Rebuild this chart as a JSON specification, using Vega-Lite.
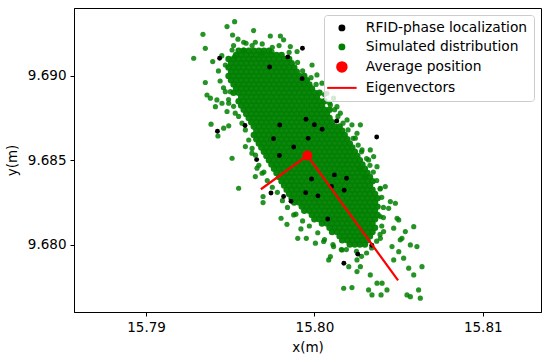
{
"$schema":"https://vega.github.io/schema/vega-lite/v6.json",
"width":467,"height":304,
"autosize":{"type":"none"},
"padding":{"left":74,"top":8,"right":9,"bottom":50},
"config":{
"font":"DejaVu Sans",
"view":{"stroke":"black","strokeWidth":1},
"axis":{"grid":false,"domainColor":"black","tickColor":"black","labelColor":"black","titleColor":"black","labelFontSize":13.5,"titleFontSize":13.5,"titleFontWeight":"normal","tickSize":4,"labelPadding":4,"domainWidth":1,"tickWidth":1,"labelFont":"DejaVu Sans","titleFont":"DejaVu Sans"},
"legend":{"title":null,"orient":"top-right","offset":7,"padding":6,"rowPadding":4,"labelFontSize":13.8,"labelFont":"DejaVu Sans","labelColor":"black","labelLimit":400,"labelOffset":17,"symbolOffset":5,"strokeColor":"#cccccc","fillColor":"rgba(255,255,255,0.8)","cornerRadius":3}
},
"datasets":{
"simcore":[
{"x":15.7955,"y":9.6915},{"x":15.7958,"y":9.6915},{"x":15.7961,"y":9.6915},{"x":15.7964,"y":9.6915},{"x":15.7967,"y":9.6915},{"x":15.7970,"y":9.6915},{"x":15.7973,"y":9.6915},
{"x":15.79535,"y":9.69125},{"x":15.79565,"y":9.69125},{"x":15.79595,"y":9.69125},{"x":15.79625,"y":9.69125},{"x":15.79655,"y":9.69125},{"x":15.79685,"y":9.69125},{"x":15.79715,"y":9.69125},{"x":15.79745,"y":9.69125},{"x":15.79775,"y":9.69125},{"x":15.79805,"y":9.69125},
{"x":15.7949,"y":9.6910},{"x":15.7952,"y":9.6910},{"x":15.7955,"y":9.6910},{"x":15.7958,"y":9.6910},{"x":15.7961,"y":9.6910},{"x":15.7964,"y":9.6910},{"x":15.7967,"y":9.6910},{"x":15.7970,"y":9.6910},{"x":15.7973,"y":9.6910},{"x":15.7976,"y":9.6910},{"x":15.7979,"y":9.6910},{"x":15.7982,"y":9.6910},{"x":15.7985,"y":9.6910},
{"x":15.79505,"y":9.69075},{"x":15.79535,"y":9.69075},{"x":15.79565,"y":9.69075},{"x":15.79595,"y":9.69075},{"x":15.79625,"y":9.69075},{"x":15.79655,"y":9.69075},{"x":15.79685,"y":9.69075},{"x":15.79715,"y":9.69075},{"x":15.79745,"y":9.69075},{"x":15.79775,"y":9.69075},{"x":15.79805,"y":9.69075},{"x":15.79835,"y":9.69075},{"x":15.79865,"y":9.69075},
{"x":15.7949,"y":9.6905},{"x":15.7952,"y":9.6905},{"x":15.7955,"y":9.6905},{"x":15.7958,"y":9.6905},{"x":15.7961,"y":9.6905},{"x":15.7964,"y":9.6905},{"x":15.7967,"y":9.6905},{"x":15.7970,"y":9.6905},{"x":15.7973,"y":9.6905},{"x":15.7976,"y":9.6905},{"x":15.7979,"y":9.6905},{"x":15.7982,"y":9.6905},{"x":15.7985,"y":9.6905},{"x":15.7988,"y":9.6905},
{"x":15.79505,"y":9.69025},{"x":15.79535,"y":9.69025},{"x":15.79565,"y":9.69025},{"x":15.79595,"y":9.69025},{"x":15.79625,"y":9.69025},{"x":15.79655,"y":9.69025},{"x":15.79685,"y":9.69025},{"x":15.79715,"y":9.69025},{"x":15.79745,"y":9.69025},{"x":15.79775,"y":9.69025},{"x":15.79805,"y":9.69025},{"x":15.79835,"y":9.69025},{"x":15.79865,"y":9.69025},{"x":15.79895,"y":9.69025},
{"x":15.7949,"y":9.6900},{"x":15.7952,"y":9.6900},{"x":15.7955,"y":9.6900},{"x":15.7958,"y":9.6900},{"x":15.7961,"y":9.6900},{"x":15.7964,"y":9.6900},{"x":15.7967,"y":9.6900},{"x":15.7970,"y":9.6900},{"x":15.7973,"y":9.6900},{"x":15.7976,"y":9.6900},{"x":15.7979,"y":9.6900},{"x":15.7982,"y":9.6900},{"x":15.7985,"y":9.6900},{"x":15.7988,"y":9.6900},{"x":15.7991,"y":9.6900},{"x":15.7994,"y":9.6900},
{"x":15.79505,"y":9.68975},{"x":15.79535,"y":9.68975},{"x":15.79565,"y":9.68975},{"x":15.79595,"y":9.68975},{"x":15.79625,"y":9.68975},{"x":15.79655,"y":9.68975},{"x":15.79685,"y":9.68975},{"x":15.79715,"y":9.68975},{"x":15.79745,"y":9.68975},{"x":15.79775,"y":9.68975},{"x":15.79805,"y":9.68975},{"x":15.79835,"y":9.68975},{"x":15.79865,"y":9.68975},{"x":15.79895,"y":9.68975},{"x":15.79925,"y":9.68975},{"x":15.79955,"y":9.68975},
{"x":15.7952,"y":9.6895},{"x":15.7955,"y":9.6895},{"x":15.7958,"y":9.6895},{"x":15.7961,"y":9.6895},{"x":15.7964,"y":9.6895},{"x":15.7967,"y":9.6895},{"x":15.7970,"y":9.6895},{"x":15.7973,"y":9.6895},{"x":15.7976,"y":9.6895},{"x":15.7979,"y":9.6895},{"x":15.7982,"y":9.6895},{"x":15.7985,"y":9.6895},{"x":15.7988,"y":9.6895},{"x":15.7991,"y":9.6895},{"x":15.7994,"y":9.6895},{"x":15.7997,"y":9.6895},
{"x":15.79535,"y":9.68925},{"x":15.79565,"y":9.68925},{"x":15.79595,"y":9.68925},{"x":15.79625,"y":9.68925},{"x":15.79655,"y":9.68925},{"x":15.79685,"y":9.68925},{"x":15.79715,"y":9.68925},{"x":15.79745,"y":9.68925},{"x":15.79775,"y":9.68925},{"x":15.79805,"y":9.68925},{"x":15.79835,"y":9.68925},{"x":15.79865,"y":9.68925},{"x":15.79895,"y":9.68925},{"x":15.79925,"y":9.68925},{"x":15.79955,"y":9.68925},{"x":15.79985,"y":9.68925},
{"x":15.7952,"y":9.6890},{"x":15.7955,"y":9.6890},{"x":15.7958,"y":9.6890},{"x":15.7961,"y":9.6890},{"x":15.7964,"y":9.6890},{"x":15.7967,"y":9.6890},{"x":15.7970,"y":9.6890},{"x":15.7973,"y":9.6890},{"x":15.7976,"y":9.6890},{"x":15.7979,"y":9.6890},{"x":15.7982,"y":9.6890},{"x":15.7985,"y":9.6890},{"x":15.7988,"y":9.6890},{"x":15.7991,"y":9.6890},{"x":15.7994,"y":9.6890},{"x":15.7997,"y":9.6890},{"x":15.8000,"y":9.6890},{"x":15.8003,"y":9.6890},
{"x":15.79565,"y":9.68875},{"x":15.79595,"y":9.68875},{"x":15.79625,"y":9.68875},{"x":15.79655,"y":9.68875},{"x":15.79685,"y":9.68875},{"x":15.79715,"y":9.68875},{"x":15.79745,"y":9.68875},{"x":15.79775,"y":9.68875},{"x":15.79805,"y":9.68875},{"x":15.79835,"y":9.68875},{"x":15.79865,"y":9.68875},{"x":15.79895,"y":9.68875},{"x":15.79925,"y":9.68875},{"x":15.79955,"y":9.68875},{"x":15.79985,"y":9.68875},{"x":15.80015,"y":9.68875},
{"x":15.7955,"y":9.6885},{"x":15.7958,"y":9.6885},{"x":15.7961,"y":9.6885},{"x":15.7964,"y":9.6885},{"x":15.7967,"y":9.6885},{"x":15.7970,"y":9.6885},{"x":15.7973,"y":9.6885},{"x":15.7976,"y":9.6885},{"x":15.7979,"y":9.6885},{"x":15.7982,"y":9.6885},{"x":15.7985,"y":9.6885},{"x":15.7988,"y":9.6885},{"x":15.7991,"y":9.6885},{"x":15.7994,"y":9.6885},{"x":15.7997,"y":9.6885},{"x":15.8000,"y":9.6885},{"x":15.8003,"y":9.6885},{"x":15.8006,"y":9.6885},
{"x":15.79565,"y":9.68825},{"x":15.79595,"y":9.68825},{"x":15.79625,"y":9.68825},{"x":15.79655,"y":9.68825},{"x":15.79685,"y":9.68825},{"x":15.79715,"y":9.68825},{"x":15.79745,"y":9.68825},{"x":15.79775,"y":9.68825},{"x":15.79805,"y":9.68825},{"x":15.79835,"y":9.68825},{"x":15.79865,"y":9.68825},{"x":15.79895,"y":9.68825},{"x":15.79925,"y":9.68825},{"x":15.79955,"y":9.68825},{"x":15.79985,"y":9.68825},{"x":15.80015,"y":9.68825},{"x":15.80045,"y":9.68825},
{"x":15.7958,"y":9.6880},{"x":15.7961,"y":9.6880},{"x":15.7964,"y":9.6880},{"x":15.7967,"y":9.6880},{"x":15.7970,"y":9.6880},{"x":15.7973,"y":9.6880},{"x":15.7976,"y":9.6880},{"x":15.7979,"y":9.6880},{"x":15.7982,"y":9.6880},{"x":15.7985,"y":9.6880},{"x":15.7988,"y":9.6880},{"x":15.7991,"y":9.6880},{"x":15.7994,"y":9.6880},{"x":15.7997,"y":9.6880},{"x":15.8000,"y":9.6880},{"x":15.8003,"y":9.6880},{"x":15.8006,"y":9.6880},{"x":15.8009,"y":9.6880},
{"x":15.79595,"y":9.68775},{"x":15.79625,"y":9.68775},{"x":15.79655,"y":9.68775},{"x":15.79685,"y":9.68775},{"x":15.79715,"y":9.68775},{"x":15.79745,"y":9.68775},{"x":15.79775,"y":9.68775},{"x":15.79805,"y":9.68775},{"x":15.79835,"y":9.68775},{"x":15.79865,"y":9.68775},{"x":15.79895,"y":9.68775},{"x":15.79925,"y":9.68775},{"x":15.79955,"y":9.68775},{"x":15.79985,"y":9.68775},{"x":15.80015,"y":9.68775},{"x":15.80045,"y":9.68775},{"x":15.80075,"y":9.68775},
{"x":15.7961,"y":9.6875},{"x":15.7964,"y":9.6875},{"x":15.7967,"y":9.6875},{"x":15.7970,"y":9.6875},{"x":15.7973,"y":9.6875},{"x":15.7976,"y":9.6875},{"x":15.7979,"y":9.6875},{"x":15.7982,"y":9.6875},{"x":15.7985,"y":9.6875},{"x":15.7988,"y":9.6875},{"x":15.7991,"y":9.6875},{"x":15.7994,"y":9.6875},{"x":15.7997,"y":9.6875},{"x":15.8000,"y":9.6875},{"x":15.8003,"y":9.6875},{"x":15.8006,"y":9.6875},{"x":15.8009,"y":9.6875},
{"x":15.79625,"y":9.68725},{"x":15.79655,"y":9.68725},{"x":15.79685,"y":9.68725},{"x":15.79715,"y":9.68725},{"x":15.79745,"y":9.68725},{"x":15.79775,"y":9.68725},{"x":15.79805,"y":9.68725},{"x":15.79835,"y":9.68725},{"x":15.79865,"y":9.68725},{"x":15.79895,"y":9.68725},{"x":15.79925,"y":9.68725},{"x":15.79955,"y":9.68725},{"x":15.79985,"y":9.68725},{"x":15.80015,"y":9.68725},{"x":15.80045,"y":9.68725},{"x":15.80075,"y":9.68725},{"x":15.80105,"y":9.68725},
{"x":15.7964,"y":9.6870},{"x":15.7967,"y":9.6870},{"x":15.7970,"y":9.6870},{"x":15.7973,"y":9.6870},{"x":15.7976,"y":9.6870},{"x":15.7979,"y":9.6870},{"x":15.7982,"y":9.6870},{"x":15.7985,"y":9.6870},{"x":15.7988,"y":9.6870},{"x":15.7991,"y":9.6870},{"x":15.7994,"y":9.6870},{"x":15.7997,"y":9.6870},{"x":15.8000,"y":9.6870},{"x":15.8003,"y":9.6870},{"x":15.8006,"y":9.6870},{"x":15.8009,"y":9.6870},{"x":15.8012,"y":9.6870},{"x":15.8015,"y":9.6870},
{"x":15.79655,"y":9.68675},{"x":15.79685,"y":9.68675},{"x":15.79715,"y":9.68675},{"x":15.79745,"y":9.68675},{"x":15.79775,"y":9.68675},{"x":15.79805,"y":9.68675},{"x":15.79835,"y":9.68675},{"x":15.79865,"y":9.68675},{"x":15.79895,"y":9.68675},{"x":15.79925,"y":9.68675},{"x":15.79955,"y":9.68675},{"x":15.79985,"y":9.68675},{"x":15.80015,"y":9.68675},{"x":15.80045,"y":9.68675},{"x":15.80075,"y":9.68675},{"x":15.80105,"y":9.68675},{"x":15.80135,"y":9.68675},{"x":15.80165,"y":9.68675},
{"x":15.7964,"y":9.6865},{"x":15.7967,"y":9.6865},{"x":15.7970,"y":9.6865},{"x":15.7973,"y":9.6865},{"x":15.7976,"y":9.6865},{"x":15.7979,"y":9.6865},{"x":15.7982,"y":9.6865},{"x":15.7985,"y":9.6865},{"x":15.7988,"y":9.6865},{"x":15.7991,"y":9.6865},{"x":15.7994,"y":9.6865},{"x":15.7997,"y":9.6865},{"x":15.8000,"y":9.6865},{"x":15.8003,"y":9.6865},{"x":15.8006,"y":9.6865},{"x":15.8009,"y":9.6865},{"x":15.8012,"y":9.6865},{"x":15.8015,"y":9.6865},{"x":15.8018,"y":9.6865},
{"x":15.79655,"y":9.68625},{"x":15.79685,"y":9.68625},{"x":15.79715,"y":9.68625},{"x":15.79745,"y":9.68625},{"x":15.79775,"y":9.68625},{"x":15.79805,"y":9.68625},{"x":15.79835,"y":9.68625},{"x":15.79865,"y":9.68625},{"x":15.79895,"y":9.68625},{"x":15.79925,"y":9.68625},{"x":15.79955,"y":9.68625},{"x":15.79985,"y":9.68625},{"x":15.80015,"y":9.68625},{"x":15.80045,"y":9.68625},{"x":15.80075,"y":9.68625},{"x":15.80105,"y":9.68625},{"x":15.80135,"y":9.68625},{"x":15.80165,"y":9.68625},{"x":15.80195,"y":9.68625},
{"x":15.7967,"y":9.6860},{"x":15.7970,"y":9.6860},{"x":15.7973,"y":9.6860},{"x":15.7976,"y":9.6860},{"x":15.7979,"y":9.6860},{"x":15.7982,"y":9.6860},{"x":15.7985,"y":9.6860},{"x":15.7988,"y":9.6860},{"x":15.7991,"y":9.6860},{"x":15.7994,"y":9.6860},{"x":15.7997,"y":9.6860},{"x":15.8000,"y":9.6860},{"x":15.8003,"y":9.6860},{"x":15.8006,"y":9.6860},{"x":15.8009,"y":9.6860},{"x":15.8012,"y":9.6860},{"x":15.8015,"y":9.6860},{"x":15.8018,"y":9.6860},{"x":15.8021,"y":9.6860},
{"x":15.79685,"y":9.68575},{"x":15.79715,"y":9.68575},{"x":15.79745,"y":9.68575},{"x":15.79775,"y":9.68575},{"x":15.79805,"y":9.68575},{"x":15.79835,"y":9.68575},{"x":15.79865,"y":9.68575},{"x":15.79895,"y":9.68575},{"x":15.79925,"y":9.68575},{"x":15.79955,"y":9.68575},{"x":15.79985,"y":9.68575},{"x":15.80015,"y":9.68575},{"x":15.80045,"y":9.68575},{"x":15.80075,"y":9.68575},{"x":15.80105,"y":9.68575},{"x":15.80135,"y":9.68575},{"x":15.80165,"y":9.68575},{"x":15.80195,"y":9.68575},{"x":15.80225,"y":9.68575},
{"x":15.7970,"y":9.6855},{"x":15.7973,"y":9.6855},{"x":15.7976,"y":9.6855},{"x":15.7979,"y":9.6855},{"x":15.7982,"y":9.6855},{"x":15.7985,"y":9.6855},{"x":15.7988,"y":9.6855},{"x":15.7991,"y":9.6855},{"x":15.7994,"y":9.6855},{"x":15.7997,"y":9.6855},{"x":15.8000,"y":9.6855},{"x":15.8003,"y":9.6855},{"x":15.8006,"y":9.6855},{"x":15.8009,"y":9.6855},{"x":15.8012,"y":9.6855},{"x":15.8015,"y":9.6855},{"x":15.8018,"y":9.6855},{"x":15.8021,"y":9.6855},{"x":15.8024,"y":9.6855},
{"x":15.79715,"y":9.68525},{"x":15.79745,"y":9.68525},{"x":15.79775,"y":9.68525},{"x":15.79805,"y":9.68525},{"x":15.79835,"y":9.68525},{"x":15.79865,"y":9.68525},{"x":15.79895,"y":9.68525},{"x":15.79925,"y":9.68525},{"x":15.79955,"y":9.68525},{"x":15.79985,"y":9.68525},{"x":15.80015,"y":9.68525},{"x":15.80045,"y":9.68525},{"x":15.80075,"y":9.68525},{"x":15.80105,"y":9.68525},{"x":15.80135,"y":9.68525},{"x":15.80165,"y":9.68525},{"x":15.80195,"y":9.68525},{"x":15.80225,"y":9.68525},{"x":15.80255,"y":9.68525},
{"x":15.7973,"y":9.6850},{"x":15.7976,"y":9.6850},{"x":15.7979,"y":9.6850},{"x":15.7982,"y":9.6850},{"x":15.7985,"y":9.6850},{"x":15.7988,"y":9.6850},{"x":15.7991,"y":9.6850},{"x":15.7994,"y":9.6850},{"x":15.7997,"y":9.6850},{"x":15.8000,"y":9.6850},{"x":15.8003,"y":9.6850},{"x":15.8006,"y":9.6850},{"x":15.8009,"y":9.6850},{"x":15.8012,"y":9.6850},{"x":15.8015,"y":9.6850},{"x":15.8018,"y":9.6850},{"x":15.8021,"y":9.6850},{"x":15.8024,"y":9.6850},{"x":15.8027,"y":9.6850},
{"x":15.79745,"y":9.68475},{"x":15.79775,"y":9.68475},{"x":15.79805,"y":9.68475},{"x":15.79835,"y":9.68475},{"x":15.79865,"y":9.68475},{"x":15.79895,"y":9.68475},{"x":15.79925,"y":9.68475},{"x":15.79955,"y":9.68475},{"x":15.79985,"y":9.68475},{"x":15.80015,"y":9.68475},{"x":15.80045,"y":9.68475},{"x":15.80075,"y":9.68475},{"x":15.80105,"y":9.68475},{"x":15.80135,"y":9.68475},{"x":15.80165,"y":9.68475},{"x":15.80195,"y":9.68475},{"x":15.80225,"y":9.68475},{"x":15.80255,"y":9.68475},{"x":15.80285,"y":9.68475},
{"x":15.7976,"y":9.6845},{"x":15.7979,"y":9.6845},{"x":15.7982,"y":9.6845},{"x":15.7985,"y":9.6845},{"x":15.7988,"y":9.6845},{"x":15.7991,"y":9.6845},{"x":15.7994,"y":9.6845},{"x":15.7997,"y":9.6845},{"x":15.8000,"y":9.6845},{"x":15.8003,"y":9.6845},{"x":15.8006,"y":9.6845},{"x":15.8009,"y":9.6845},{"x":15.8012,"y":9.6845},{"x":15.8015,"y":9.6845},{"x":15.8018,"y":9.6845},{"x":15.8021,"y":9.6845},{"x":15.8024,"y":9.6845},{"x":15.8027,"y":9.6845},{"x":15.8030,"y":9.6845},
{"x":15.79775,"y":9.68425},{"x":15.79805,"y":9.68425},{"x":15.79835,"y":9.68425},{"x":15.79865,"y":9.68425},{"x":15.79895,"y":9.68425},{"x":15.79925,"y":9.68425},{"x":15.79955,"y":9.68425},{"x":15.79985,"y":9.68425},{"x":15.80015,"y":9.68425},{"x":15.80045,"y":9.68425},{"x":15.80075,"y":9.68425},{"x":15.80105,"y":9.68425},{"x":15.80135,"y":9.68425},{"x":15.80165,"y":9.68425},{"x":15.80195,"y":9.68425},{"x":15.80225,"y":9.68425},{"x":15.80255,"y":9.68425},{"x":15.80285,"y":9.68425},{"x":15.80315,"y":9.68425},
{"x":15.7979,"y":9.6840},{"x":15.7982,"y":9.6840},{"x":15.7985,"y":9.6840},{"x":15.7988,"y":9.6840},{"x":15.7991,"y":9.6840},{"x":15.7994,"y":9.6840},{"x":15.7997,"y":9.6840},{"x":15.8000,"y":9.6840},{"x":15.8003,"y":9.6840},{"x":15.8006,"y":9.6840},{"x":15.8009,"y":9.6840},{"x":15.8012,"y":9.6840},{"x":15.8015,"y":9.6840},{"x":15.8018,"y":9.6840},{"x":15.8021,"y":9.6840},{"x":15.8024,"y":9.6840},{"x":15.8027,"y":9.6840},{"x":15.8030,"y":9.6840},{"x":15.8033,"y":9.6840},
{"x":15.79805,"y":9.68375},{"x":15.79835,"y":9.68375},{"x":15.79865,"y":9.68375},{"x":15.79895,"y":9.68375},{"x":15.79925,"y":9.68375},{"x":15.79955,"y":9.68375},{"x":15.79985,"y":9.68375},{"x":15.80015,"y":9.68375},{"x":15.80045,"y":9.68375},{"x":15.80075,"y":9.68375},{"x":15.80105,"y":9.68375},{"x":15.80135,"y":9.68375},{"x":15.80165,"y":9.68375},{"x":15.80195,"y":9.68375},{"x":15.80225,"y":9.68375},{"x":15.80255,"y":9.68375},{"x":15.80285,"y":9.68375},{"x":15.80315,"y":9.68375},{"x":15.80345,"y":9.68375},
{"x":15.7982,"y":9.6835},{"x":15.7985,"y":9.6835},{"x":15.7988,"y":9.6835},{"x":15.7991,"y":9.6835},{"x":15.7994,"y":9.6835},{"x":15.7997,"y":9.6835},{"x":15.8000,"y":9.6835},{"x":15.8003,"y":9.6835},{"x":15.8006,"y":9.6835},{"x":15.8009,"y":9.6835},{"x":15.8012,"y":9.6835},{"x":15.8015,"y":9.6835},{"x":15.8018,"y":9.6835},{"x":15.8021,"y":9.6835},{"x":15.8024,"y":9.6835},{"x":15.8027,"y":9.6835},{"x":15.8030,"y":9.6835},{"x":15.8033,"y":9.6835},
{"x":15.79835,"y":9.68325},{"x":15.79865,"y":9.68325},{"x":15.79895,"y":9.68325},{"x":15.79925,"y":9.68325},{"x":15.79955,"y":9.68325},{"x":15.79985,"y":9.68325},{"x":15.80015,"y":9.68325},{"x":15.80045,"y":9.68325},{"x":15.80075,"y":9.68325},{"x":15.80105,"y":9.68325},{"x":15.80135,"y":9.68325},{"x":15.80165,"y":9.68325},{"x":15.80195,"y":9.68325},{"x":15.80225,"y":9.68325},{"x":15.80255,"y":9.68325},{"x":15.80285,"y":9.68325},{"x":15.80315,"y":9.68325},{"x":15.80345,"y":9.68325},
{"x":15.7985,"y":9.6830},{"x":15.7988,"y":9.6830},{"x":15.7991,"y":9.6830},{"x":15.7994,"y":9.6830},{"x":15.7997,"y":9.6830},{"x":15.8000,"y":9.6830},{"x":15.8003,"y":9.6830},{"x":15.8006,"y":9.6830},{"x":15.8009,"y":9.6830},{"x":15.8012,"y":9.6830},{"x":15.8015,"y":9.6830},{"x":15.8018,"y":9.6830},{"x":15.8021,"y":9.6830},{"x":15.8024,"y":9.6830},{"x":15.8027,"y":9.6830},{"x":15.8030,"y":9.6830},{"x":15.8033,"y":9.6830},{"x":15.8036,"y":9.6830},
{"x":15.79865,"y":9.68275},{"x":15.79895,"y":9.68275},{"x":15.79925,"y":9.68275},{"x":15.79955,"y":9.68275},{"x":15.79985,"y":9.68275},{"x":15.80015,"y":9.68275},{"x":15.80045,"y":9.68275},{"x":15.80075,"y":9.68275},{"x":15.80105,"y":9.68275},{"x":15.80135,"y":9.68275},{"x":15.80165,"y":9.68275},{"x":15.80195,"y":9.68275},{"x":15.80225,"y":9.68275},{"x":15.80255,"y":9.68275},{"x":15.80285,"y":9.68275},{"x":15.80315,"y":9.68275},{"x":15.80345,"y":9.68275},{"x":15.80375,"y":9.68275},
{"x":15.7988,"y":9.6825},{"x":15.7991,"y":9.6825},{"x":15.7994,"y":9.6825},{"x":15.7997,"y":9.6825},{"x":15.8000,"y":9.6825},{"x":15.8003,"y":9.6825},{"x":15.8006,"y":9.6825},{"x":15.8009,"y":9.6825},{"x":15.8012,"y":9.6825},{"x":15.8015,"y":9.6825},{"x":15.8018,"y":9.6825},{"x":15.8021,"y":9.6825},{"x":15.8024,"y":9.6825},{"x":15.8027,"y":9.6825},{"x":15.8030,"y":9.6825},{"x":15.8033,"y":9.6825},{"x":15.8036,"y":9.6825},
{"x":15.79925,"y":9.68225},{"x":15.79955,"y":9.68225},{"x":15.79985,"y":9.68225},{"x":15.80015,"y":9.68225},{"x":15.80045,"y":9.68225},{"x":15.80075,"y":9.68225},{"x":15.80105,"y":9.68225},{"x":15.80135,"y":9.68225},{"x":15.80165,"y":9.68225},{"x":15.80195,"y":9.68225},{"x":15.80225,"y":9.68225},{"x":15.80255,"y":9.68225},{"x":15.80285,"y":9.68225},{"x":15.80315,"y":9.68225},{"x":15.80345,"y":9.68225},{"x":15.80375,"y":9.68225},
{"x":15.7994,"y":9.6820},{"x":15.7997,"y":9.6820},{"x":15.8000,"y":9.6820},{"x":15.8003,"y":9.6820},{"x":15.8006,"y":9.6820},{"x":15.8009,"y":9.6820},{"x":15.8012,"y":9.6820},{"x":15.8015,"y":9.6820},{"x":15.8018,"y":9.6820},{"x":15.8021,"y":9.6820},{"x":15.8024,"y":9.6820},{"x":15.8027,"y":9.6820},{"x":15.8030,"y":9.6820},{"x":15.8033,"y":9.6820},{"x":15.8036,"y":9.6820},
{"x":15.79985,"y":9.68175},{"x":15.80015,"y":9.68175},{"x":15.80045,"y":9.68175},{"x":15.80075,"y":9.68175},{"x":15.80105,"y":9.68175},{"x":15.80135,"y":9.68175},{"x":15.80165,"y":9.68175},{"x":15.80195,"y":9.68175},{"x":15.80225,"y":9.68175},{"x":15.80255,"y":9.68175},{"x":15.80285,"y":9.68175},{"x":15.80315,"y":9.68175},{"x":15.80345,"y":9.68175},{"x":15.80375,"y":9.68175},
{"x":15.8000,"y":9.6815},{"x":15.8003,"y":9.6815},{"x":15.8006,"y":9.6815},{"x":15.8009,"y":9.6815},{"x":15.8012,"y":9.6815},{"x":15.8015,"y":9.6815},{"x":15.8018,"y":9.6815},{"x":15.8021,"y":9.6815},{"x":15.8024,"y":9.6815},{"x":15.8027,"y":9.6815},{"x":15.8030,"y":9.6815},{"x":15.8033,"y":9.6815},{"x":15.8036,"y":9.6815},
{"x":15.80045,"y":9.68125},{"x":15.80075,"y":9.68125},{"x":15.80105,"y":9.68125},{"x":15.80135,"y":9.68125},{"x":15.80165,"y":9.68125},{"x":15.80195,"y":9.68125},{"x":15.80225,"y":9.68125},{"x":15.80255,"y":9.68125},{"x":15.80285,"y":9.68125},{"x":15.80315,"y":9.68125},{"x":15.80345,"y":9.68125},
{"x":15.8009,"y":9.6810},{"x":15.8012,"y":9.6810},{"x":15.8015,"y":9.6810},{"x":15.8018,"y":9.6810},{"x":15.8021,"y":9.6810},{"x":15.8024,"y":9.6810},{"x":15.8027,"y":9.6810},{"x":15.8030,"y":9.6810},{"x":15.8033,"y":9.6810},{"x":15.8036,"y":9.6810},
{"x":15.80105,"y":9.68075},{"x":15.80135,"y":9.68075},{"x":15.80165,"y":9.68075},{"x":15.80195,"y":9.68075},{"x":15.80225,"y":9.68075},{"x":15.80255,"y":9.68075},{"x":15.80285,"y":9.68075},{"x":15.80315,"y":9.68075},{"x":15.80345,"y":9.68075},
{"x":15.8015,"y":9.6805},{"x":15.8018,"y":9.6805},{"x":15.8021,"y":9.6805},{"x":15.8024,"y":9.6805},{"x":15.8027,"y":9.6805},{"x":15.8030,"y":9.6805},{"x":15.8033,"y":9.6805},
{"x":15.80165,"y":9.68025},{"x":15.80195,"y":9.68025},{"x":15.80225,"y":9.68025},{"x":15.80255,"y":9.68025},{"x":15.80285,"y":9.68025},{"x":15.80315,"y":9.68025},
{"x":15.8021,"y":9.6800},{"x":15.8024,"y":9.6800},{"x":15.8027,"y":9.6800},{"x":15.8030,"y":9.6800}
],
"simscatter":[
{"x":15.79526,"y":9.69322},{"x":15.79481,"y":9.69293},{"x":15.79639,"y":9.69269},{"x":15.79338,"y":9.69247},{"x":15.79514,"y":9.69243},{"x":15.79546,"y":9.69218},{"x":15.79738,"y":9.69237},{"x":15.79798,"y":9.69237},{"x":15.79817,"y":9.69214},{"x":15.79594,"y":9.69194},{"x":15.79649,"y":9.692},{"x":15.79352,"y":9.69164},{"x":15.79283,"y":9.69105},{"x":15.79396,"y":9.69085},{"x":15.79511,"y":9.69154},{"x":15.79526,"y":9.69115},{"x":15.79471,"y":9.69065},{"x":15.7958,"y":9.69154},{"x":15.79689,"y":9.69135},{"x":15.79748,"y":9.69145},
{"x":15.79352,"y":9.68961},{"x":15.79362,"y":9.68887},{"x":15.79382,"y":9.68868},{"x":15.79421,"y":9.68858},{"x":15.79412,"y":9.68818},{"x":15.79451,"y":9.68838},{"x":15.79491,"y":9.68838},{"x":15.79471,"y":9.68907},{"x":15.79501,"y":9.68907},
{"x":15.79386,"y":9.68714},{"x":15.79427,"y":9.68644},{"x":15.79461,"y":9.6869},{"x":15.79491,"y":9.68704},{"x":15.79511,"y":9.68512},{"x":15.79649,"y":9.68403},{"x":15.7955,"y":9.68334},{"x":15.79695,"y":9.68285},{"x":15.79695,"y":9.68249},{"x":15.7959,"y":9.68581},{"x":15.79629,"y":9.68542},{"x":15.79659,"y":9.68453},{"x":15.79689,"y":9.68423},{"x":15.7953,"y":9.68779},{"x":15.79481,"y":9.68789},
{"x":15.79802,"y":9.68156},{"x":15.79837,"y":9.6812},{"x":15.79901,"y":9.68037},{"x":15.79952,"y":9.68037},{"x":15.7992,"y":9.68093},{"x":15.79877,"y":9.68176},
{"x":15.80006,"y":9.68008},{"x":15.80055,"y":9.68018},{"x":15.80114,"y":9.67988},{"x":15.80095,"y":9.67929},{"x":15.80085,"y":9.67909},{"x":15.80204,"y":9.67869},{"x":15.80253,"y":9.6784},{"x":15.80273,"y":9.67869},{"x":15.80332,"y":9.6782},{"x":15.80174,"y":9.67741},{"x":15.80223,"y":9.67745},{"x":15.80322,"y":9.67731},{"x":15.80342,"y":9.67701},{"x":15.80372,"y":9.67771},{"x":15.80402,"y":9.67771},{"x":15.80396,"y":9.67701},{"x":15.80431,"y":9.67731},{"x":15.8055,"y":9.67701},{"x":15.8057,"y":9.67691},{"x":15.80629,"y":9.67682},{"x":15.80619,"y":9.67731},{"x":15.8059,"y":9.6782},{"x":15.80639,"y":9.67869},{"x":15.8056,"y":9.6786},{"x":15.8053,"y":9.67919},{"x":15.80471,"y":9.67909},{"x":15.80461,"y":9.67988},{"x":15.8057,"y":9.67998},{"x":15.80609,"y":9.67988},{"x":15.8059,"y":9.68106},{"x":15.8054,"y":9.68077},{"x":15.8052,"y":9.68037},{"x":15.80491,"y":9.68156},{"x":15.80481,"y":9.68245},{"x":15.80421,"y":9.68344},{"x":15.80501,"y":9.67958},{"x":15.8051,"y":9.68028},{"x":15.80392,"y":9.68037},{"x":15.80411,"y":9.68077},{"x":15.80471,"y":9.68097},{"x":15.80501,"y":9.68146},{"x":15.80441,"y":9.68215},{"x":15.80392,"y":9.68166},{"x":15.80164,"y":9.67968},{"x":15.80253,"y":9.67909},{"x":15.80451,"y":9.68255},
{"x":15.80154,"y":9.68779},{"x":15.80194,"y":9.68739},{"x":15.80223,"y":9.6871},{"x":15.80273,"y":9.6871},{"x":15.80253,"y":9.6866},{"x":15.80243,"y":9.68631},{"x":15.80283,"y":9.68561},{"x":15.80332,"y":9.68561},{"x":15.80352,"y":9.68522},{"x":15.80322,"y":9.68502},{"x":15.80372,"y":9.68462},{"x":15.80392,"y":9.68334},{"x":15.80303,"y":9.68403},{"x":15.80273,"y":9.68443},
{"x":15.80015,"y":9.69006},{"x":15.80045,"y":9.68957},{"x":15.80075,"y":9.68897},{"x":15.80114,"y":9.68868},{"x":15.80095,"y":9.68828},{"x":15.80134,"y":9.68818},{"x":15.79986,"y":9.69065},{"x":15.79897,"y":9.69145},{"x":15.79857,"y":9.69174},
{"x":15.7945,"y":9.6912},{"x":15.7943,"y":9.6903},{"x":15.7944,"y":9.6897},{"x":15.7946,"y":9.6893},{"x":15.7949,"y":9.6886},{"x":15.7952,"y":9.6882},{"x":15.7955,"y":9.6876},{"x":15.7957,"y":9.6872},{"x":15.7959,"y":9.6868},{"x":15.7961,"y":9.6862},{"x":15.7963,"y":9.6857},{"x":15.7965,"y":9.6853},{"x":15.7967,"y":9.6847},{"x":15.7970,"y":9.6843},{"x":15.7972,"y":9.6838},{"x":15.7975,"y":9.6834},{"x":15.7978,"y":9.6831},{"x":15.7981,"y":9.6826},{"x":15.7984,"y":9.6822},{"x":15.7989,"y":9.6818},{"x":15.7993,"y":9.6814},{"x":15.7997,"y":9.6811},{"x":15.8002,"y":9.6807},{"x":15.8006,"y":9.6803},{"x":15.8011,"y":9.6800},{"x":15.8016,"y":9.6797},
{"x":15.7979,"y":9.6918},{"x":15.7985,"y":9.6914},{"x":15.7990,"y":9.6908},{"x":15.7993,"y":9.6903},{"x":15.7998,"y":9.6899},{"x":15.8001,"y":9.6895},{"x":15.8006,"y":9.6889},{"x":15.8009,"y":9.6884},{"x":15.8012,"y":9.6880},{"x":15.8014,"y":9.6876},{"x":15.8017,"y":9.6872},{"x":15.8020,"y":9.6868},{"x":15.8023,"y":9.6863},{"x":15.8026,"y":9.6859},{"x":15.8028,"y":9.6855},{"x":15.8031,"y":9.6851},{"x":15.8033,"y":9.6847},{"x":15.8035,"y":9.6843},{"x":15.8037,"y":9.6838},{"x":15.8039,"y":9.6833},{"x":15.8040,"y":9.6828},{"x":15.8041,"y":9.6822},{"x":15.8041,"y":9.6816},{"x":15.8040,"y":9.6811},{"x":15.8039,"y":9.6806},{"x":15.8037,"y":9.6802},{"x":15.8034,"y":9.6798},{"x":15.8031,"y":9.6795},
{"x":15.7952,"y":9.6918},{"x":15.7958,"y":9.6920},{"x":15.7963,"y":9.6918},{"x":15.7969,"y":9.6919},{"x":15.7975,"y":9.6917},{"x":15.8019,"y":9.6797},{"x":15.8025,"y":9.6796},{"x":15.8028,"y":9.6793}
],
"rfid":[
{"x":15.79437,"y":9.69105},{"x":15.79929,"y":9.69164},{"x":15.79842,"y":9.69113},{"x":15.79734,"y":9.69053},{"x":15.79927,"y":9.68984},{"x":15.79424,"y":9.68672},{"x":15.79588,"y":9.68706},{"x":15.79794,"y":9.68709},{"x":15.7995,"y":9.68743},{"x":15.8,"y":9.68711},{"x":15.80046,"y":9.68684},{"x":15.80133,"y":9.68733},{"x":15.8037,"y":9.68638},{"x":15.79757,"y":9.68628},{"x":15.79963,"y":9.6863},{"x":15.79877,"y":9.68579},{"x":15.79792,"y":9.68528},{"x":15.79657,"y":9.68504},{"x":15.80119,"y":9.68413},{"x":15.80191,"y":9.68393},{"x":15.79983,"y":9.68389},{"x":15.80102,"y":9.68344},{"x":15.80177,"y":9.68322},{"x":15.79742,"y":9.68306},{"x":15.79948,"y":9.68308},{"x":15.79817,"y":9.68285},{"x":15.80021,"y":9.68289},{"x":15.79861,"y":9.68257},{"x":15.80079,"y":9.68152},{"x":15.80341,"y":9.67996},{"x":15.80258,"y":9.67943},{"x":15.80175,"y":9.67889}
],
"avg":[{"x":15.79958,"y":9.68528}],
"eig":[{"x":15.79682,"y":9.68328},{"x":15.79958,"y":9.68528},{"x":15.80497,"y":9.67787}]
},
"encoding":{
"x":{"field":"x","type":"quantitative","scale":{"domain":[15.78572,15.81346],"nice":false,"zero":false},"axis":{"values":[15.79,15.8,15.81],"format":".2f","title":"x(m)","titlePadding":7}},
"y":{"field":"y","type":"quantitative","scale":{"domain":[9.676,9.69403],"nice":false,"zero":false},"axis":{"values":[9.68,9.685,9.69],"format":".3f","title":"y(m)","titlePadding":8}}
},
"layer":[
{"data":{"name":"simcore"},"mark":{"type":"circle","size":42,"opacity":0.95},
"encoding":{"color":{"datum":"Simulated distribution","type":"nominal","scale":{"domain":["RFID-phase localization","Simulated distribution","Average position","Eigenvectors"],"range":["black","green","red","red"]},
"legend":{"encode":{"symbols":{"update":{
"shape":{"signal":"datum.value === 'Eigenvectors' ? 'M-3,0H3' : 'circle'"},
"size":{"signal":"datum.value === 'Average position' ? 90 : datum.value === 'Eigenvectors' ? 96 : 24"},
"fill":{"signal":"datum.value === 'RFID-phase localization' ? 'black' : datum.value === 'Simulated distribution' ? 'green' : datum.value === 'Average position' ? 'red' : 'transparent'"},
"stroke":{"signal":"datum.value === 'Eigenvectors' ? 'red' : 'transparent'"},
"strokeWidth":{"value":2},
"opacity":{"value":1}}}}}}}},
{"data":{"name":"simscatter"},"mark":{"type":"circle","size":27,"opacity":0.85},
"encoding":{"color":{"datum":"Simulated distribution","type":"nominal",
"legend":{"encode":{"symbols":{"update":{
"shape":{"signal":"datum.value === 'Eigenvectors' ? 'M-3,0H3' : 'circle'"},
"size":{"signal":"datum.value === 'Average position' ? 90 : datum.value === 'Eigenvectors' ? 96 : 24"},
"fill":{"signal":"datum.value === 'RFID-phase localization' ? 'black' : datum.value === 'Simulated distribution' ? 'green' : datum.value === 'Average position' ? 'red' : 'transparent'"},
"stroke":{"signal":"datum.value === 'Eigenvectors' ? 'red' : 'transparent'"},
"strokeWidth":{"value":2},
"opacity":{"value":1}}}}}}}},
{"data":{"name":"rfid"},"mark":{"type":"circle","size":24,"opacity":1},
"encoding":{"color":{"datum":"RFID-phase localization","type":"nominal",
"legend":{"encode":{"symbols":{"update":{
"shape":{"signal":"datum.value === 'Eigenvectors' ? 'M-3,0H3' : 'circle'"},
"size":{"signal":"datum.value === 'Average position' ? 90 : datum.value === 'Eigenvectors' ? 96 : 24"},
"fill":{"signal":"datum.value === 'RFID-phase localization' ? 'black' : datum.value === 'Simulated distribution' ? 'green' : datum.value === 'Average position' ? 'red' : 'transparent'"},
"stroke":{"signal":"datum.value === 'Eigenvectors' ? 'red' : 'transparent'"},
"strokeWidth":{"value":2},
"opacity":{"value":1}}}}}}}},
{"data":{"name":"eig"},"mark":{"type":"line","strokeWidth":2.2},
"encoding":{"color":{"datum":"Eigenvectors","type":"nominal",
"legend":{"encode":{"symbols":{"update":{
"shape":{"signal":"datum.value === 'Eigenvectors' ? 'M-3,0H3' : 'circle'"},
"size":{"signal":"datum.value === 'Average position' ? 90 : datum.value === 'Eigenvectors' ? 96 : 24"},
"fill":{"signal":"datum.value === 'RFID-phase localization' ? 'black' : datum.value === 'Simulated distribution' ? 'green' : datum.value === 'Average position' ? 'red' : 'transparent'"},
"stroke":{"signal":"datum.value === 'Eigenvectors' ? 'red' : 'transparent'"},
"strokeWidth":{"value":2},
"opacity":{"value":1}}}}}}}},
{"data":{"name":"avg"},"mark":{"type":"circle","size":100,"opacity":1},
"encoding":{"color":{"datum":"Average position","type":"nominal",
"legend":{"encode":{"symbols":{"update":{
"shape":{"signal":"datum.value === 'Eigenvectors' ? 'M-3,0H3' : 'circle'"},
"size":{"signal":"datum.value === 'Average position' ? 90 : datum.value === 'Eigenvectors' ? 96 : 24"},
"fill":{"signal":"datum.value === 'RFID-phase localization' ? 'black' : datum.value === 'Simulated distribution' ? 'green' : datum.value === 'Average position' ? 'red' : 'transparent'"},
"stroke":{"signal":"datum.value === 'Eigenvectors' ? 'red' : 'transparent'"},
"strokeWidth":{"value":2},
"opacity":{"value":1}}}}}}}}
]
}
